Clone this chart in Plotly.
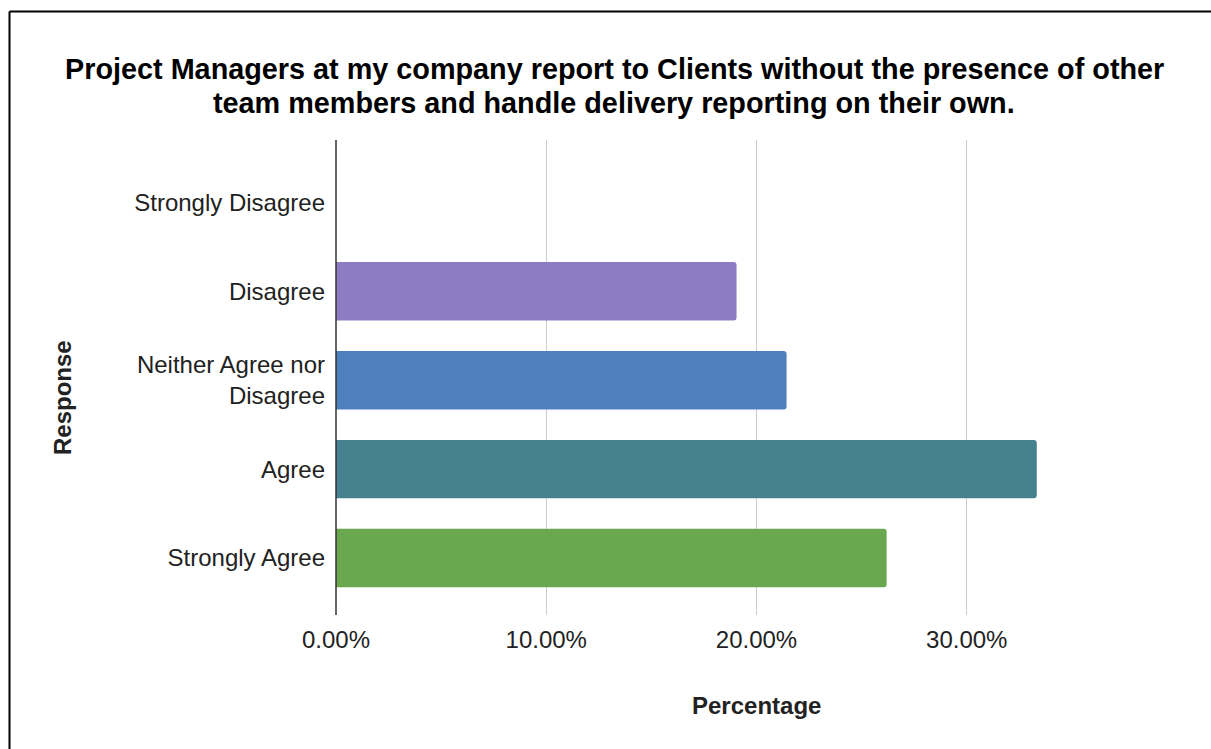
import plotly.graph_objects as go

categories = ["Strongly Disagree", "Disagree", "Neither Agree nor<br>Disagree", "Agree", "Strongly Agree"]
values = [0.0, 0.1905, 0.2143, 0.3333, 0.2619]
colors = ["#8e7cc3", "#8e7cc3", "#4e80bd", "#45818e", "#6aa84f"]
tick_vals = [0.0, 0.1, 0.2, 0.3, 0.4]
tick_text = ["0.00%", "10.00%", "20.00%", "30.00%", ""]
title_lines = ["Project Managers at my company report to Clients without the presence of other",
               "team members and handle delivery reporting on their own."]

W, H = 1211, 749
L, R, T, B = 336, 1177, 140, 615

def px(x):
    return (x - L) / (R - L)

def py(y):
    return (B - y) / (B - T)

fig = go.Figure(go.Bar(
    x=values, y=list(range(len(categories))), orientation="h",
    marker=dict(color=colors, cornerradius=3, line=dict(width=0)),
    width=0.657,
))

font = "Liberation Sans, Arial, sans-serif"
fig.update_layout(
    width=W, height=H,
    margin=dict(l=L, r=W - R, t=T, b=H - B),
    paper_bgcolor="white", plot_bgcolor="white",
    showlegend=False,
    font=dict(family=font, size=24, color="#222222"),
    xaxis=dict(range=[0, 0.4], tickvals=tick_vals, ticktext=tick_text,
               showgrid=True, gridcolor="#cccccc", gridwidth=1,
               zeroline=False, showline=False, ticks="",
               tickfont=dict(size=24, color="#222222"), ticklabelstandoff=8),
    yaxis=dict(range=[4.64, -0.70], tickvals=list(range(len(categories))), ticktext=categories,
               showgrid=False, zeroline=False, showline=False, ticks="",
               tickfont=dict(size=24, color="#222222"), ticklabelstandoff=10),
    shapes=[
        dict(type="line", xref="paper", yref="paper", x0=0, x1=0, y0=py(615), y1=py(140),
             line=dict(color="#333333", width=1.5)),
        dict(type="line", xref="paper", yref="paper", x0=px(9.5), x1=px(9.5), y0=py(749), y1=py(11.5),
             line=dict(color="black", width=2)),
        dict(type="line", xref="paper", yref="paper", x0=px(9.5), x1=px(1211), y0=py(11.5), y1=py(11.5),
             line=dict(color="black", width=2)),
    ],
    annotations=[
        dict(text="<b>" + title_lines[0] + "</b>",
             xref="paper", yref="paper", x=px(614), y=py(69), xanchor="center", yanchor="middle",
             showarrow=False, font=dict(size=28.8, color="black", family=font)),
        dict(text="<b>" + title_lines[1] + "</b>",
             xref="paper", yref="paper", x=px(614), y=py(103), xanchor="center", yanchor="middle",
             showarrow=False, font=dict(size=28.8, color="black", family=font)),
        dict(text="<b>Percentage</b>", xref="paper", yref="paper", x=px(756), y=py(705),
             xanchor="center", yanchor="middle", showarrow=False,
             font=dict(size=24, color="#222222", family=font)),
        dict(text="<b>Response</b>", xref="paper", yref="paper", x=px(62), y=py(398),
             xanchor="center", yanchor="middle", showarrow=False, textangle=-90,
             font=dict(size=24, color="#222222", family=font)),
    ],
)

fig.write_html("out.html")
